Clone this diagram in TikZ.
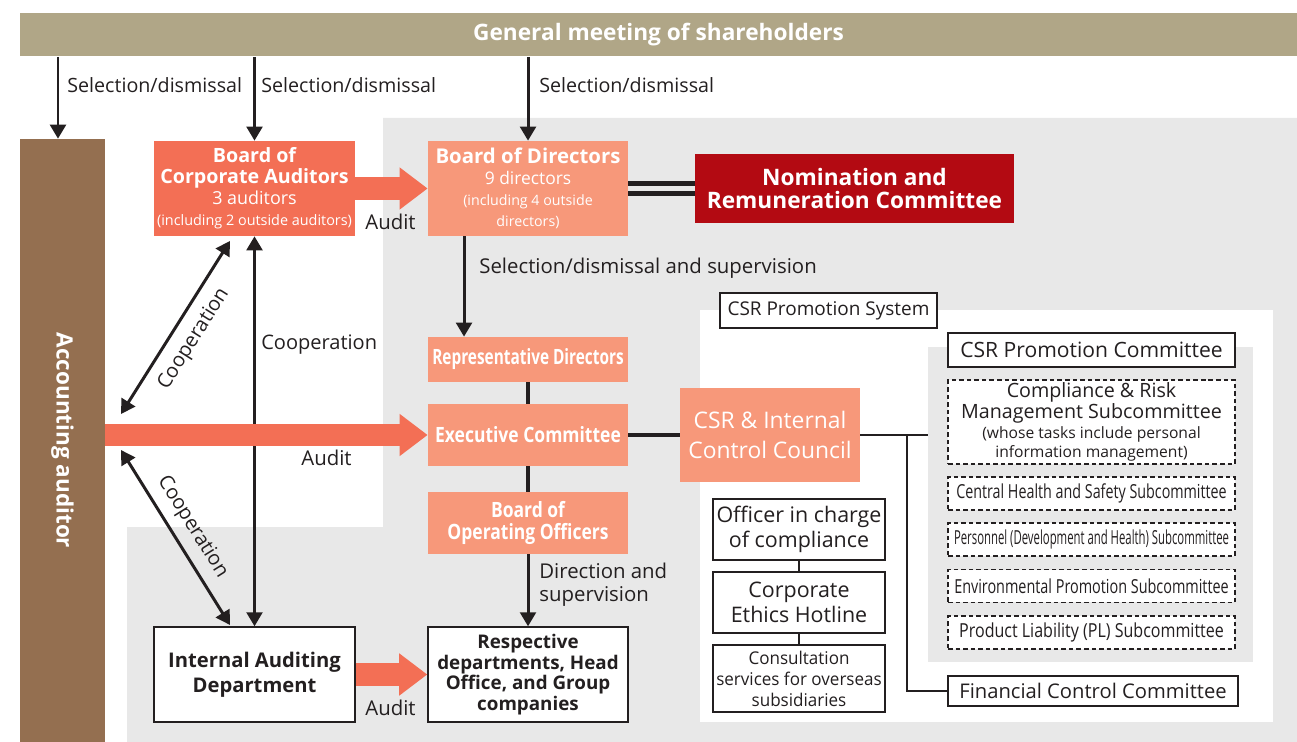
\documentclass[tikz,border=0pt]{standalone}
\usepackage{fontspec}
\usepackage{graphicx}
\setmainfont{Open Sans}
\usetikzlibrary{arrows.meta}

\definecolor{gmsbeige}{RGB}{176,166,135}
\definecolor{audbrown}{RGB}{148,111,80}
\definecolor{corange}{RGB}{243,111,85}
\definecolor{csalmon}{RGB}{247,152,122}
\definecolor{cdarkred}{RGB}{179,10,18}
\definecolor{bggray}{RGB}{232,232,232}
\definecolor{ink}{RGB}{35,31,32}

\newcommand{\setsize}[2]{\fontsize{#1}{#2}\selectfont}
\newcommand{\narrow}[2][0.85]{\scalebox{#1}[1]{#2}}

\begin{document}
\begin{tikzpicture}[
x=0.02cm, y=-0.02cm,
every node/.style={
    inner sep=0pt,
    align=center,
    text=ink
},
box/.style={draw=ink, line width=0.8pt, fill=white},
subbox/.style={box, dash pattern=on 2.6pt off 1.7pt},
redbox/.style={fill=corange, text=white},
pinkbox/.style={fill=csalmon, text=white},
arr/.style={draw=ink, line width=1.7pt, -{Triangle[width=9pt,length=8pt]}},
darr/.style={draw=ink, line width=1.7pt, {Triangle[width=9pt,length=8pt]}-{Triangle[width=9pt,length=8pt]}},
fat/.style={draw=corange, line width=13pt, -{Triangle[width=23pt,length=16pt]}},
link/.style={draw=ink, line width=2.2pt},
dbl/.style={draw=ink, line width=2.8pt, double=bggray, double distance=3pt},
thinlink/.style={draw=ink, line width=1pt},
lbl/.style={font=\setsize{11.2}{13}, anchor=west, align=left}
]
\useasboundingbox (0,0) rectangle (1297,742);

%---------------- Background ----------------
\fill[bggray] (383,118) -- (1297,118) -- (1297,742) -- (127,742) -- (127,527) -- (383,527) -- cycle;

\node[fill=gmsbeige, minimum width=255.4mm, minimum height=8.6mm, text=white, font=\bfseries\setsize{12.9}{15}] (gms) at (658.5,35) {General meeting of shareholders};
\node[fill=audbrown, minimum width=17mm, minimum height=120.6mm, text=white, font=\bfseries\setsize{12.8}{15}] (acc) at (62.5,440.5) {\rotatebox{-90}{Accounting auditor}};

%---------------- Auditors and directors ----------------
\node[redbox, minimum width=40.2mm, minimum height=19mm] (bca) at (254.5,188.5) {\bfseries\setsize{11.2}{13.2}Board of\\\bfseries\setsize{11.2}{13.2}Corporate Auditors\\\setsize{10.2}{12.5}3 auditors\\\setsize{8.2}{11.5}(including 2 outside auditors)};
\node[pinkbox, minimum width=40mm, minimum height=19mm] (bod) at (528,188.5) {\bfseries\setsize{11.6}{13.5}Board of Directors\\\setsize{9.9}{12.5}9 directors\\\setsize{8.1}{11.5}(including 4 outside\\\setsize{8.1}{11.5}directors)};
\node[fill=cdarkred, text=white, minimum width=63.8mm, minimum height=13.8mm, font=\bfseries\setsize{12.9}{13}] (nrc) at (854.5,188.5) {Nomination and\\Remuneration Committee};

%---------------- Execution ----------------
\node[pinkbox, minimum width=40mm, minimum height=9mm, font=\bfseries\setsize{12}{14}] (rd) at (528,359.5) {\narrow[0.73]{Representative Directors}};
\node[pinkbox, minimum width=40mm, minimum height=12.4mm, font=\bfseries\setsize{12}{14}] (ec) at (528,435) {\narrow[0.83]{Executive Committee}};
\node[pinkbox, minimum width=40mm, minimum height=12.4mm, font=\bfseries\setsize{12}{13}] (boo) at (528,523) {\narrow[0.83]{Board of}\\\narrow[0.83]{Operating Officers}};
\node[box, minimum width=40mm, minimum height=19mm, font=\bfseries\setsize{10.7}{11.8}] (dept) at (528,674.5) {Respective\\departments, Head\\Office, and Group\\companies};
\node[box, minimum width=40.2mm, minimum height=19mm, font=\bfseries\setsize{11.5}{14}] (iad) at (254.5,674.5) {Internal Auditing\\Department};

%---------------- CSR promotion system ----------------
\node[fill=white, minimum width=114.6mm, minimum height=82.4mm] (csrarea) at (986.5,516) {};
\node[fill=bggray, minimum width=65mm, minimum height=63mm] (panel) at (1090.5,504.5) {};
\node[box, minimum width=43.4mm, minimum height=7mm, font=\setsize{10.8}{13}] (csrsys) at (828.5,310.5) {CSR Promotion System};
\node[pinkbox, minimum width=36mm, minimum height=18.8mm, font=\setsize{13}{17}] (csric) at (770,435) {CSR \& Internal\\Control Council};

\node[box, minimum width=57.4mm, minimum height=6.8mm, font=\setsize{12}{14}] (cpc) at (1091.5,350) {CSR Promotion Committee};
\node[subbox, minimum width=57.4mm, minimum height=16.8mm, font=\setsize{11.2}{11}] (crm) at (1091.5,422) {Compliance \& Risk\\Management Subcommittee\\\setsize{8.9}{9}(whose tasks include personal\\\setsize{8.9}{9}information management)};
\node[subbox, minimum width=57.4mm, minimum height=6.6mm, font=\setsize{11}{13}] (chs) at (1091.5,493.5) {\narrow[0.74]{Central Health and Safety Subcommittee}};
\node[subbox, minimum width=57.4mm, minimum height=6.6mm, font=\setsize{11}{13}] (pdh) at (1091.5,539.5) {\narrow[0.587]{Personnel (Development and Health) Subcommittee}};
\node[subbox, minimum width=57.4mm, minimum height=6.6mm, font=\setsize{11}{13}] (eps) at (1091.5,586) {\narrow[0.745]{Environmental Promotion Subcommittee}};
\node[subbox, minimum width=57.4mm, minimum height=6.6mm, font=\setsize{11}{13}] (pls) at (1091.5,632.5) {\narrow[0.83]{Product Liability (PL) Subcommittee}};
\node[box, minimum width=58mm, minimum height=6mm, font=\setsize{11.5}{14}] (fcc) at (1093,691) {Financial Control Committee};

\node[box, minimum width=34.4mm, minimum height=12.2mm, font=\setsize{12.2}{14}] (oic) at (799,529.5) {Officer in charge\\of compliance};
\node[box, minimum width=34.4mm, minimum height=12.2mm, font=\setsize{12.2}{14}] (ceh) at (799,602.5) {Corporate\\Ethics Hotline};
\node[box, minimum width=34.4mm, minimum height=13.4mm, font=\setsize{10}{12}] (cso) at (799,678.5) {\narrow[0.97]{Consultation}\\\narrow[0.97]{services for overseas}\\\narrow[0.97]{subsidiaries}};

\coordinate (jn) at (907,435);
\draw[thinlink] (csric.east) -- (csric.east -| panel.west);
\draw[thinlink] (jn) |- (fcc.west);
\draw[thinlink] (oic.south) -- (ceh.north);
\draw[thinlink] (ceh.south) -- (cso.north);

%---------------- Connectors ----------------
\draw[arr] ([xshift=-0.9mm]gms.south -| acc.north) -- ([xshift=-0.9mm]acc.north);
\draw[arr] (gms.south -| bca.north) -- (bca.north);
\draw[arr] (gms.south -| bod.north) -- (bod.north);
\node[lbl] (lsel1) at (67,85) {Selection/dismissal};
\node[lbl] (lsel2) at (261,85) {Selection/dismissal};
\node[lbl] (lsel3) at (539,85) {Selection/dismissal};

\draw[arr] ([xshift=-12.8mm]bod.south) -- ([xshift=-12.8mm]rd.north);
\node[lbl, font=\setsize{11.6}{13}] (lsel4) at (479,268) {Selection/dismissal and supervision};

\draw[dbl] (bod.east |- nrc.west) -- (nrc.west);
\draw[link] (rd.south) -- (ec.north);
\draw[link] (ec.south) -- (boo.north);
\draw[link] (ec.east) -- (csric.west);
\draw[arr] (boo.south) -- (dept.north);
\node[lbl, font=\setsize{11.6}{13}] (ldir) at (539,585) {Direction and\\supervision};

\coordinate (co1) at (121,414);
\coordinate (co2) at (230,241);
\coordinate (co3) at (121,450);
\coordinate (co4) at (230,625);
\draw[darr] (co1) -- node[sloped, below=6pt, font=\setsize{11.4}{13}] (lco1) {Cooperation} (co2);
\draw[darr] (co3) -- node[sloped, above=5pt, font=\setsize{11.4}{13}] (lco2) {Cooperation} (co4);
\draw[darr] (bca.south) -- (iad.north);
\node[lbl, font=\setsize{11.4}{13}] (lco3) at (261,345) {Cooperation};

\draw[fat] (bca.east) -- (bod.west);
\draw[fat] (acc.east |- ec.west) -- (ec.west);
\draw[fat] (iad.east) -- (dept.west);
\node[lbl, font=\setsize{11.6}{13}] (laud1) at (365,222) {Audit};
\node[lbl, font=\setsize{11.6}{13}] (laud2) at (301,458) {Audit};
\node[lbl, font=\setsize{11.6}{13}] (laud3) at (365,708) {Audit};

\end{tikzpicture}
\end{document}
